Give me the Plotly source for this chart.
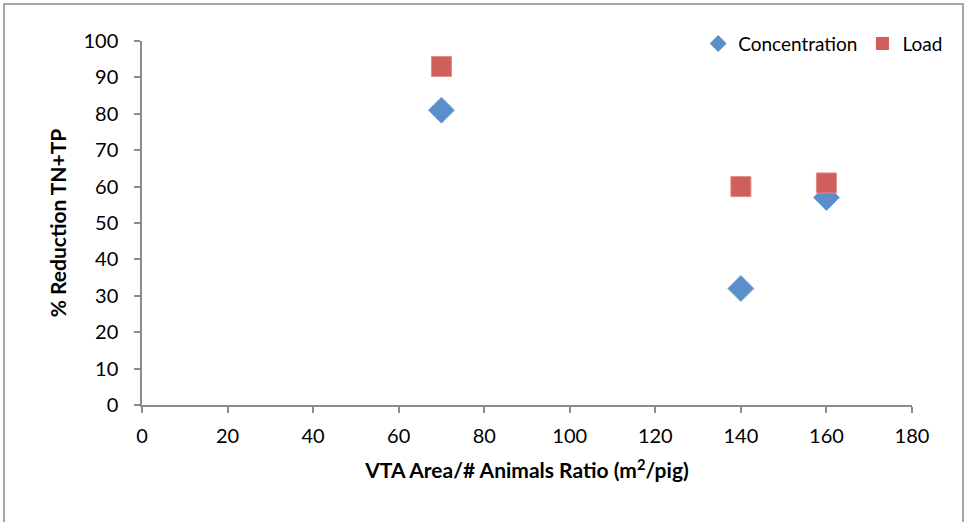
import plotly.graph_objects as go

# VTA area per animal vs. % reduction in TN+TP
conc_x = [70, 140, 160]
conc_y = [81, 32, 57]
load_x = [70, 140, 160]
load_y = [93, 60, 61]

x_ticks = [0, 20, 40, 60, 80, 100, 120, 140, 160, 180]
y_ticks = [0, 10, 20, 30, 40, 50, 60, 70, 80, 90, 100]

FONT = "Lato, 'Open Sans', sans-serif"
AXIS_GRAY = "#8c8c8c"
BLUE = "#5b8fca"
RED = "#cf5f5a"

fig = go.Figure()
fig.add_trace(go.Scatter(
    x=conc_x, y=conc_y, mode="markers", name="Concentration",
    marker=dict(symbol="diamond", size=20, color=BLUE,
                line=dict(width=1, color="#7aa5d8")),
    showlegend=False,
))
fig.add_trace(go.Scatter(
    x=load_x, y=load_y, mode="markers", name="Load",
    marker=dict(symbol="square", size=20, color=RED,
                line=dict(width=1, color="#e08c88")),
    showlegend=False,
))
# Legend entries with compact symbols
fig.add_trace(go.Scatter(
    x=[None], y=[None], mode="markers", name="Concentration",
    marker=dict(symbol="diamond", size=13, color=BLUE),
))
fig.add_trace(go.Scatter(
    x=[None], y=[None], mode="markers", name="Load",
    marker=dict(symbol="square", size=13, color=RED),
))

fig.update_layout(
    width=967, height=522,
    margin=dict(l=142, r=55, t=41, b=117),
    paper_bgcolor="white", plot_bgcolor="white",
    font=dict(family=FONT, size=19, color="#000000"),
    showlegend=True,
    legend=dict(
        x=1.047, y=1.045, xanchor="right", yanchor="top",
        orientation="h", bgcolor="rgba(0,0,0,0)",
        font=dict(family=FONT, size=19),
        itemwidth=30, tracegroupgap=0,
    ),
    xaxis=dict(
        range=[0, 180], tickvals=x_ticks, showgrid=False, zeroline=False,
        showline=True, linecolor=AXIS_GRAY, linewidth=1.5,
        ticks="outside", ticklen=6, tickcolor=AXIS_GRAY, tickwidth=1.5,
        tickfont=dict(size=20), ticklabelstandoff=6,
        title=dict(text="<b>VTA Area/# Animals Ratio (m<sup>2</sup>/pig)</b>",
                   font=dict(size=21), standoff=18),
    ),
    yaxis=dict(
        range=[0, 100], tickvals=y_ticks, showgrid=False, zeroline=False,
        showline=True, linecolor=AXIS_GRAY, linewidth=1.5,
        ticks="outside", ticklen=6, tickcolor=AXIS_GRAY, tickwidth=1.5,
        tickfont=dict(size=20), ticklabelstandoff=12,
        title=dict(text="<b>% Reduction TN+TP</b>",
                   font=dict(size=21), standoff=11),
    ),
)

# Outer chart frame
fig.add_shape(
    type="rect", xref="paper", yref="paper",
    x0=(4 - 142) / 770, x1=(963 - 142) / 770,
    y0=(405 - 530) / 364, y1=(405 - 4) / 364,
    line=dict(color="#a6a6a6", width=2), fillcolor="rgba(0,0,0,0)",
    layer="below",
)

fig.write_html("out.html")
